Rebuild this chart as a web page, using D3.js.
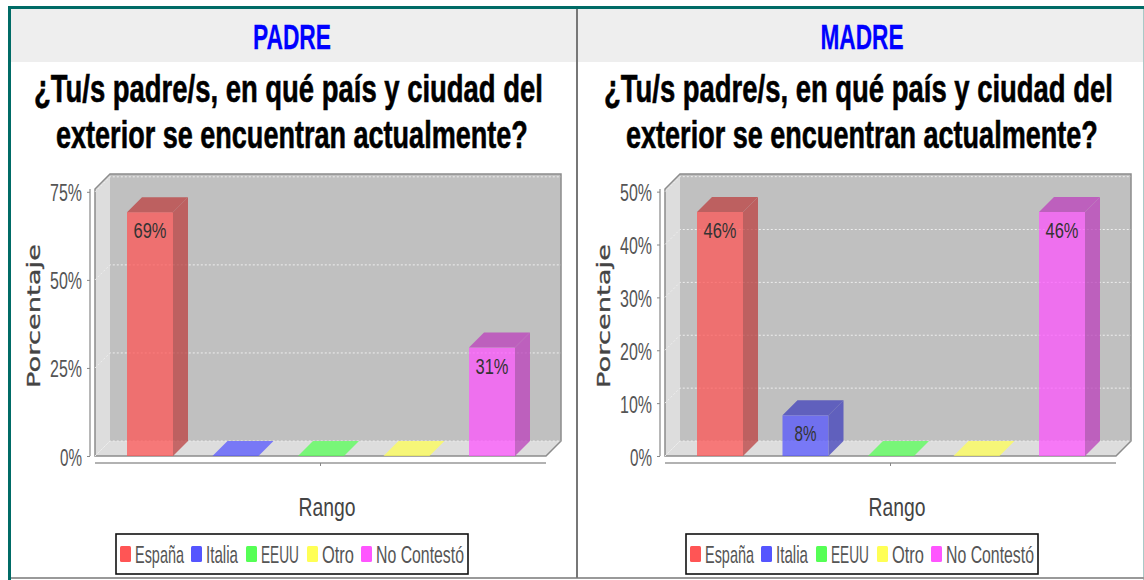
<!DOCTYPE html>
<html><head><meta charset="utf-8">
<style>html,body{margin:0;padding:0;background:#fff;overflow:hidden}svg{display:block}</style>
<script src="https://cdn.jsdelivr.net/npm/d3@7/dist/d3.min.js"></script>
</head><body><div id="c"></div>
<script>
const categories = ["España","Italia","EEUU","Otro","No Contestó"];
const colors = ["#ff5555","#5555ff","#55ff55","#ffff55","#ff55ff"];
const padreValues = [69.23,0,0,0,30.77];
const madreValues = [46.15,7.69,0,0,46.15];
const padreTicks = [0,25,50,75];
const madreTicks = [0,10,20,30,40,50];
const questionLines = ["¿Tu/s padre/s, en qué país y ciudad del","exterior se encuentran actualmente?"];
const panelTitles = ["PADRE","MADRE"];
const yTitle = "Porcentaje", xTitle = "Rango";

const svg = d3.select("#c").append("svg").attr("width",1144).attr("height",580);

// fit a text to a target width by a horizontal scale about its anchor
function fit(sel,x,y,len){
  const n = sel.node().getComputedTextLength();
  sel.attr("x",0).attr("y",0).attr("dy",null).attr("transform",`translate(${x},${y}) scale(${len/n},1)`);
  return sel;
}
function squeezed(g,str,x,y,len,size,weight,fill,anchor,stroke){
  const t = g.append("text").attr("font-family","'Liberation Sans'")
    .attr("font-size",size).attr("font-weight",weight).attr("fill",fill)
    .attr("text-anchor",anchor||"start").text(str);
  if (stroke) t.attr("stroke",fill).attr("stroke-width",stroke);
  return fit(t,x,y,len);
}

// outer frame & header bands
svg.append("rect").attr("x",11).attr("y",9).attr("width",1132).attr("height",53).attr("fill","#eeeeee");
svg.append("rect").attr("x",8).attr("y",6).attr("width",3).attr("height",574).attr("fill","#006b66");
svg.append("rect").attr("x",8).attr("y",6).attr("width",1136).attr("height",3).attr("fill","#006b66");
svg.append("rect").attr("x",1143).attr("y",9).attr("width",1).attr("height",571).attr("fill","#a9c9c7");
svg.append("rect").attr("x",11).attr("y",577).attr("width",1133).attr("height",2).attr("fill","#999");
svg.append("rect").attr("x",576).attr("y",9).attr("width",2).attr("height",569).attr("fill","#777");

function panel(ox,title,titleX,values,ticks,domainMax){
  const g = svg.append("g").attr("transform",`translate(${ox},0)`);
  const d = 15, x0 = 95, x1 = 546, y0 = 456, yTop = 189;
  const y = d3.scaleLinear().domain([0,domainMax]).range([y0,yTop]);
  const x = d3.scaleBand().domain(categories).range([127,515]).paddingInner(0.462);

  squeezed(g,title,titleX,49,title==="PADRE"?78:83,35,"bold","#0000ff","middle",0.3);
  squeezed(g,questionLines[0],34,102,509,39,"bold","#000","start",0.6);
  squeezed(g,questionLines[1],56,148,472,39,"bold","#000","start",0.6);

  // 3D plot box
  g.append("rect").attr("x",x0+d).attr("y",yTop-d).attr("width",x1-x0).attr("height",y0-yTop).attr("fill","#c0c0c0");
  g.append("path").attr("d",`M${x0},${yTop}L${x0+d},${yTop-d}V${y0-d}L${x0},${y0}Z`).attr("fill","#dddddd");
  g.append("path").attr("d",`M${x0},${y0}L${x0+d},${y0-d}H${x1+d}L${x1},${y0}Z`).attr("fill","#dddddd");
  const outline = `M${x0},${y0}V${yTop}L${x0+d},${yTop-d}H${x1+d}V${y0-d}L${x1},${y0}Z`;
  g.append("path").attr("d",outline).attr("fill","none").attr("stroke","#8c8c8c").attr("stroke-width",1.5);

  // gridlines on the back wall and side wall
  ticks.forEach(t=>{
    const yy = y(t);
    g.append("path").attr("d",`M${x0},${yy}L${x0+d},${yy-d}H${x1+d}`).attr("fill","none")
      .attr("stroke","#eeeeee").attr("stroke-width",1).attr("stroke-dasharray","2,2");
  });

  // y axis
  const ya = d3.axisLeft(y).tickValues(ticks).tickFormat(v=>v+"%").tickSize(3).tickPadding(3);
  const ag = g.append("g").attr("transform",`translate(${x0-5},0)`).call(ya);
  ag.select(".domain").attr("stroke","#888").attr("stroke-width",1.2).attr("d",`M-0,${yTop}V${y0}`);
  ag.selectAll(".tick line").attr("stroke","#888");
  ag.selectAll(".tick text").each(function(v){
    const s = d3.select(this).attr("font-family","'Liberation Sans'").attr("font-size",24).attr("fill","#555");
    fit(s,-8,9,v===0?22:32);
  });

  // x axis
  const xa = g.append("g");
  xa.append("line").attr("x1",x0).attr("x2",x1).attr("y1",y0+7).attr("y2",y0+7).attr("stroke","#999").attr("stroke-width",1.5);
  xa.append("line").attr("x1",(x0+x1)/2).attr("x2",(x0+x1)/2).attr("y1",y0+7).attr("y2",y0+10).attr("stroke","#888");

  // bars
  categories.forEach((c,i)=>{
    const v = values[i], bx = x(c), bw = x.bandwidth(), top = y(v), col = colors[i];
    const bar = g.append("g").attr("opacity",0.74);
    const dark = d3.color(col).darker(0.85);
    if (v>0){
      bar.append("rect").attr("x",bx).attr("y",top).attr("width",bw).attr("height",y0-top).attr("fill",col);
      bar.append("path").attr("d",`M${bx+bw},${top}L${bx+bw+d},${top-d}V${y0-d}L${bx+bw},${y0}Z`).attr("fill",dark);
    }
    bar.append("path").attr("d",`M${bx},${top}L${bx+d},${top-d}H${bx+bw+d}L${bx+bw},${top}Z`)
      .attr("fill",v>0?dark:col);
    if (v>0){
      squeezed(g,Math.round(v)+"%",bx+bw/2,top+26,v<10?22:33,22,"normal","#333","middle");
    }
  });

  // axis titles
  const yt = g.append("text").attr("text-anchor","middle").attr("font-family","'DejaVu Sans'").attr("font-size",18)
    .attr("fill","#444").attr("stroke","#444").attr("stroke-width",0.3).text(yTitle);
  const yn = yt.node().getComputedTextLength();
  yt.attr("transform",`translate(40,316) rotate(-90) scale(${144/yn},1)`);
  squeezed(g,xTitle,327,516,57,25,"normal","#444","middle");

  // legend
  const lx = 116, ly = 534;
  g.append("rect").attr("x",lx).attr("y",ly).attr("width",352).attr("height",40).attr("fill","#fff").attr("stroke","#111").attr("stroke-width",1.6);
  const swatchX = [120,191,246,307,361], labelX = [135,206,261,322,376], labelW = [49,32,38,32,88];
  categories.forEach((c,i)=>{
    g.append("rect").attr("x",swatchX[i]).attr("y",546).attr("width",11).attr("height",16).attr("rx",1.5).attr("fill",colors[i]);
    squeezed(g,c,labelX[i],563,labelW[i],24,"normal","#555");
  });
}
panel(0,panelTitles[0],292,padreValues,padreTicks,75.8);
panel(570,panelTitles[1],292,madreValues,madreTicks,50.5);
</script></body></html>
